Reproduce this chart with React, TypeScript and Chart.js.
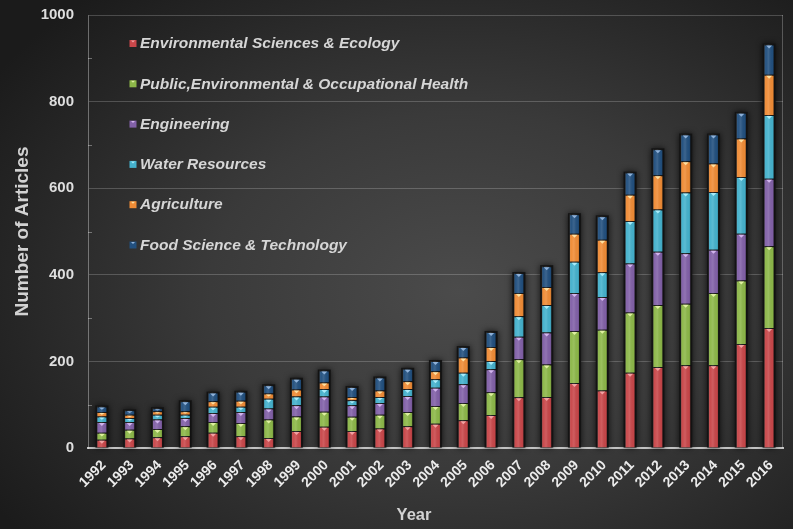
import React, { useEffect, useRef } from "react";
import { Chart, registerables } from "chart.js";

Chart.register(...registerables);

const years = ["1992","1993","1994","1995","1996","1997","1998","1999","2000","2001","2002","2003","2004","2005","2006","2007","2008","2009","2010","2011","2012","2013","2014","2015","2016"];

const envSciences = [19,22,25,27,35,27,23,39,49,39,45,50,56,64,76,117,118,150,133,174,187,191,191,240,277];
const publicHealth = [16,20,19,23,25,31,43,34,35,33,32,33,41,40,53,88,75,120,140,139,143,142,167,147,189];
const engineering = [25,18,22,19,21,25,25,26,35,27,27,37,42,43,53,52,74,88,76,113,123,117,100,108,156];
const waterResources = [13,9,11,8,14,12,23,20,17,11,14,16,20,27,19,47,63,72,57,98,98,140,133,131,147];
const agriculture = [10,8,8,8,13,14,12,16,15,8,15,18,18,35,32,54,42,65,75,61,79,72,66,89,93];
const foodScience = [13,10,7,23,20,21,19,25,28,23,30,29,24,24,35,46,48,45,54,51,60,62,67,59,70];

const seriesNames = [
  "Environmental Sciences & Ecology",
  "Public,Environmental & Occupational Health",
  "Engineering",
  "Water Resources",
  "Agriculture",
  "Food Science & Technology",
];
const seriesValues = [envSciences, publicHealth, engineering, waterResources, agriculture, foodScience];
const seriesColors = ["#c9474a", "#8db849", "#8261a8", "#45b2cd", "#f08c36", "#22507f"];
const seriesLight = ["#f2a2a2", "#dff0a0", "#d2b4ee", "#a8ecfa", "#fde0a0", "#8fb2da"];

const yTicks = [0, 200, 400, 600, 800, 1000];
const yMinorTicks = [100, 300, 500, 700, 900];
const xTitle = "Year";
const yTitle = "Number of Articles";

const FONT = "'Liberation Sans', Arial, sans-serif";

const decorPlugin = {
  id: "decor",
  beforeDatasetsDraw(chart: any) {
    const { ctx, chartArea: a, scales } = chart;
    ctx.save();
    ctx.strokeStyle = "rgba(255,255,255,0.25)";
    ctx.lineWidth = 1;
    ctx.beginPath();
    ctx.moveTo(a.right - 0.5, a.top);
    ctx.lineTo(a.right - 0.5, a.bottom);
    ctx.stroke();
    ctx.strokeStyle = "rgba(255,255,255,0.35)";
    yMinorTicks.forEach((v) => {
      const py = Math.round(scales.y.getPixelForValue(v)) + 0.5;
      ctx.beginPath();
      ctx.moveTo(a.left, py);
      ctx.lineTo(a.left + 4, py);
      ctx.stroke();
    });
    // shadows behind stacks
    const topMeta = chart.getDatasetMeta(chart.data.datasets.length - 1);
    const baseMeta = chart.getDatasetMeta(0);
    ctx.shadowColor = "rgba(0,0,0,0.75)";
    ctx.shadowBlur = 6;
    ctx.fillStyle = "#151515";
    topMeta.data.forEach((el: any, i: number) => {
      const t = el.getProps(["x", "y", "width"], true);
      const b = baseMeta.data[i].getProps(["base"], true);
      ctx.fillRect(t.x - t.width / 2 - 1, t.y - 1, t.width + 2, b.base - t.y + 1);
    });
    ctx.restore();
  },
  afterDatasetsDraw(chart: any) {
    const { ctx } = chart;
    ctx.save();
    chart.data.datasets.forEach((_ds: any, i: number) => {
      const meta = chart.getDatasetMeta(i);
      meta.data.forEach((el: any) => {
        const { x, y, base, width } = el.getProps(["x", "y", "base", "width"], true);
        const left = x - width / 2;
        const top = Math.min(y, base);
        const h = Math.abs(base - y);
        if (h < 1) return;
        const g = ctx.createLinearGradient(left, 0, left + width, 0);
        g.addColorStop(0, "rgba(0,0,0,0.30)");
        g.addColorStop(0.2, "rgba(255,255,255,0.02)");
        g.addColorStop(0.45, "rgba(255,255,255,0.12)");
        g.addColorStop(0.8, "rgba(0,0,0,0.02)");
        g.addColorStop(1, "rgba(0,0,0,0.32)");
        ctx.fillStyle = g;
        ctx.fillRect(left, top, width, h);
        const tw = Math.min(width * 0.55, 6);
        const th = Math.min(3, h * 0.4);
        ctx.fillStyle = seriesLight[i];
        ctx.beginPath();
        ctx.moveTo(x - tw / 2, top + 1);
        ctx.lineTo(x + tw / 2, top + 1);
        ctx.lineTo(x, top + 1 + th);
        ctx.closePath();
        ctx.fill();
      });
    });
    ctx.restore();
  },
  afterDraw(chart: any) {
    const { ctx } = chart;
    ctx.save();
    ctx.font = `italic bold 15.5px ${FONT}`;
    ctx.textBaseline = "middle";
    ctx.textAlign = "left";
    seriesNames.forEach((name, i) => {
      const cy = 43.5 + 40.3 * i;
      ctx.fillStyle = seriesColors[i];
      ctx.fillRect(129.5, cy - 3.5, 7, 7);
      ctx.fillStyle = seriesLight[i];
      ctx.beginPath();
      ctx.moveTo(131, cy - 3);
      ctx.lineTo(135, cy - 3);
      ctx.lineTo(133, cy - 1);
      ctx.closePath();
      ctx.fill();
      ctx.fillStyle = "#d6d6d6";
      ctx.fillText(name, 140, cy + 0.5);
    });
    ctx.font = `bold 16.5px ${FONT}`;
    ctx.textAlign = "center";
    ctx.fillStyle = "#d2d2d2";
    ctx.fillText(xTitle, 414, 515);
    ctx.restore();
  },
};

export default function App() {
  const canvasRef = useRef<HTMLCanvasElement | null>(null);

  useEffect(() => {
    document.body.style.margin = "0";
    const canvas = canvasRef.current;
    if (!canvas) return;
    const chart = new Chart(canvas, {
      type: "bar",
      data: {
        labels: years,
        datasets: seriesNames.map((name, i) => ({
          label: name,
          data: seriesValues[i],
          backgroundColor: seriesColors[i],
          borderColor: "rgba(25,25,25,0.6)",
          borderWidth: 1,
          barPercentage: 0.4,
          categoryPercentage: 1.0,
        })),
      },
      options: {
        responsive: false,
        animation: false,
        devicePixelRatio: 1,
        layout: { padding: { top: 15, right: 10, left: 0, bottom: 0 } },
        plugins: {
          legend: { display: false },
          tooltip: { enabled: false },
        },
        scales: {
          x: {
            stacked: true,
            grid: { display: false },
            border: { color: "#c4c4c4", width: 2 },
            ticks: {
              color: "#ececec",
              font: { family: FONT, size: 14, weight: "bold" },
              minRotation: 45,
              maxRotation: 45,
              autoSkip: false,
              padding: 1,
              labelOffset: 2,
            },
            title: { display: false },
            afterFit: (s: any) => {
              s.height = 81;
            },
          },
          y: {
            stacked: true,
            min: 0,
            max: 1000,
            afterBuildTicks: (s: any) => {
              s.ticks = yTicks.map((v) => ({ value: v }));
            },
            grid: { color: "rgba(255,255,255,0.2)", drawTicks: false },
            border: { color: "rgba(255,255,255,0.35)", width: 1 },
            ticks: {
              color: "#dedede",
              font: { family: FONT, size: 15, weight: "bold" },
              padding: 14,
              callback: (v: any) => String(v),
            },
            title: {
              display: true,
              text: yTitle,
              color: "#d2d2d2",
              font: { family: FONT, size: 19, weight: "bold" },
              padding: { top: 11, bottom: 0 },
            },
            afterFit: (s: any) => {
              s.width = 88;
              s.paddingTop = 0;
              s.paddingBottom = 0;
            },
          },
        },
      } as any,
      plugins: [decorPlugin],
    });
    return () => chart.destroy();
  }, []);

  return (
    <div
      style={{
        position: "absolute",
        left: 0,
        top: 0,
        width: 793,
        height: 529,
        background:
          "radial-gradient(ellipse 70% 75% at 58% 55%, #4b4b4b 0%, #3a3a3a 45%, #262626 80%, #1b1b1b 100%)",
      }}
    >
      <canvas ref={canvasRef} width={793} height={529} style={{ display: "block" }} />
    </div>
  );
}
